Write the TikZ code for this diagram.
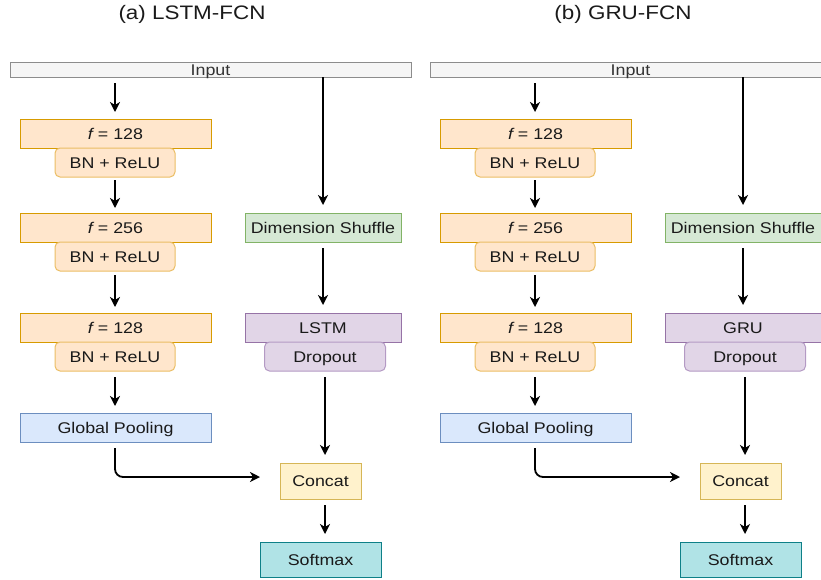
\documentclass[tikz,border=0pt]{standalone}
\usepackage{fontspec}
\setmainfont[FakeStretch=1.15]{Liberation Sans}
\usetikzlibrary{arrows.meta}
\definecolor{txt}{HTML}{1A1A1A}
\definecolor{intxt}{HTML}{333333}
\definecolor{infill}{HTML}{F5F5F5}
\definecolor{indraw}{HTML}{8C8C8C}
\definecolor{orfill}{HTML}{FFE6CC}
\definecolor{ordraw}{HTML}{D79B00}
\definecolor{orlight}{HTML}{EBBE64}
\definecolor{grfill}{HTML}{D5E8D4}
\definecolor{grdraw}{HTML}{82B366}
\definecolor{pufill}{HTML}{E1D5E7}
\definecolor{pudraw}{HTML}{9673A6}
\definecolor{pulight}{HTML}{B49AC4}
\definecolor{blfill}{HTML}{DAE8FC}
\definecolor{bldraw}{HTML}{6C8EBF}
\definecolor{yefill}{HTML}{FFF2CC}
\definecolor{yedraw}{HTML}{D6B656}
\definecolor{smfill}{HTML}{B0E3E6}
\definecolor{smdraw}{HTML}{0E8088}
\tikzset{
  box/.style={draw, line width=1pt, inner sep=0pt, outer sep=0pt, text=txt,
    text height=11.3pt, text depth=0.3pt,
    font=\fontsize{15.5}{18}\selectfont},
  inbar/.style={box, fill=infill, draw=indraw, text=intxt, minimum width=401pt, minimum height=15pt},
  conv/.style={box, fill=orfill, draw=ordraw, minimum width=191pt, minimum height=29pt},
  bnr/.style={box, fill=orfill, draw=orlight, rounded corners=5pt, minimum width=120pt, minimum height=29pt},
  gpool/.style={box, fill=blfill, draw=bldraw, minimum width=191pt, minimum height=29pt},
  shuf/.style={box, fill=grfill, draw=grdraw, minimum width=156pt, minimum height=29pt},
  rnn/.style={box, fill=pufill, draw=pudraw, minimum width=156pt, minimum height=29pt},
  drop/.style={box, fill=pufill, draw=pulight, rounded corners=5pt, minimum width=121pt, minimum height=29pt},
  concatbox/.style={box, fill=yefill, draw=yedraw, minimum width=81pt, minimum height=36pt},
  softbox/.style={box, fill=smfill, draw=smdraw, minimum width=121pt, minimum height=35pt},
  ttl/.style={inner sep=0pt, text=txt, font=\fontsize{19.5}{22}\selectfont},
  arr/.style={-{Stealth[length=10pt,width=10pt,inset=3pt]}, line width=1.8pt, black,
    shorten <=6pt, shorten >=7pt},
}
\newcommand\fcnpanel[5]{%
\begin{scope}[xshift=#2]
  \node[ttl] (#1t) at (#5,14) {#3};
  \node[inbar] (#1in) at (210.5,69.5) {Input};
  \node[conv] (#1fa) at (115.5,133.5) {{\itshape f} = 128};
  \node[bnr]  (#1ba) at (115,162.5) {BN + ReLU};
  \node[conv] (#1fb) at (115.5,227.5) {{\itshape f} = 256};
  \node[bnr]  (#1bb) at (115,256.5) {BN + ReLU};
  \node[conv] (#1fc) at (115.5,327.5) {{\itshape f} = 128};
  \node[bnr]  (#1bc) at (115,356.5) {BN + ReLU};
  \node[gpool] (#1gp) at (115.5,427.5) {Global Pooling};
  \node[shuf] (#1ds) at (323,227.5) {Dimension Shuffle};
  \node[rnn]  (#1rn) at (323,327.5) {#4};
  \node[drop] (#1do) at (325,356.5) {Dropout};
  \node[concatbox] (#1cc) at (320.5,481) {Concat};
  \node[softbox] (#1sm) at (320.5,559.5) {Softmax};
  \draw[arr] (#1in.south -| #1ba) -- (#1fa.north -| #1ba);
  \draw[arr, shorten <=3pt, shorten >=5pt] (#1ba.south) -- (#1fb.north -| #1ba);
  \draw[arr, shorten <=4pt, shorten >=6pt] (#1bb.south) -- (#1fc.north -| #1bb);
  \draw[arr] (#1bc.south) -- (#1gp.north -| #1bc);
  \draw[arr, rounded corners=8pt, shorten >=20pt] (#1gp.south -| #1bc) |- ([yshift=4pt]#1cc.west);
  \draw[arr, shorten <=0pt, shorten >=8pt] (#1in.south -| #1ds) -- (#1ds.north);
  \draw[arr, shorten >=8pt] (#1ds.south) -- (#1rn.north);
  \draw[arr, shorten >=8pt] (#1do.south) -- (#1do.south |- #1cc.north);
  \draw[arr, shorten >=8pt] (#1cc.south -| #1do) -- (#1sm.north -| #1do);
\end{scope}}
\begin{document}
\begin{tikzpicture}[x=1pt,y=-1pt]
  \useasboundingbox (0,0) rectangle (821,579);
  \clip (0,0) rectangle (821,579);
  \fcnpanel{l}{0pt}{(a) LSTM-FCN}{LSTM}{192}
  \fcnpanel{r}{420pt}{(b) GRU-FCN}{GRU}{203}
\end{tikzpicture}
\end{document}
